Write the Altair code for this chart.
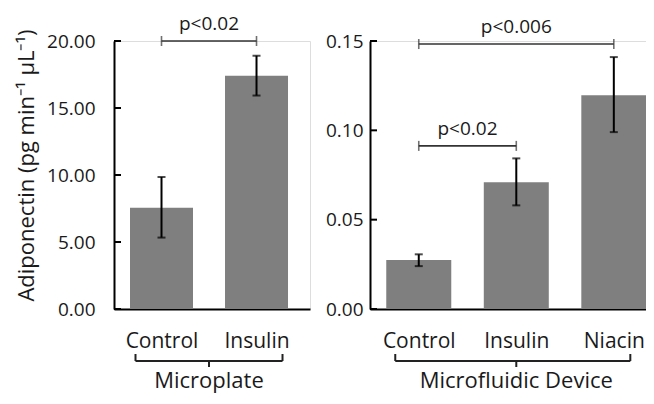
import altair as alt
import pandas as pd

FONT = "Open Sans"
TXT = "#1a1a1a"
BAR = "#7f7f7f"
H = 268

# ---- data: Microplate panel ----
left_cats = ["Control", "Insulin"]
left_vals = [7.55, 17.4]
left_lo = [5.33, 15.93]
left_hi = [9.85, 18.9]
left_ticks = [0, 5, 10, 15, 20]
left_sig_from = [0]
left_sig_to = [1]
left_sig_y = [20.0]
left_sig_lab = ["p<0.02"]

# ---- data: Microfluidic Device panel ----
right_cats = ["Control", "Insulin", "Niacin"]
right_vals = [0.0274, 0.0709, 0.1196]
right_lo = [0.0240, 0.0580, 0.0990]
right_hi = [0.0306, 0.0843, 0.1410]
right_ticks = [0, 0.05, 0.10, 0.15]
right_sig_from = [0, 0]
right_sig_to = [1, 2]
right_sig_y = [0.0913, 0.1483]
right_sig_lab = ["p<0.02", "p<0.006"]

groups = ["Microplate", "Microfluidic Device"]
y_title = "Adiponectin (pg min\u207b\u00b9 \u00b5L\u207b\u00b9)"


def panel(cats, vals, lo, hi, ticks, sfrom, sto, sy, slab, group, width,
          xdom, ydom, bar_size, label_pad, brace_l, brace_r, title):
    n = len(cats)
    df = pd.DataFrame({"i": list(range(n)), "cat": cats, "v": vals, "lo": lo, "hi": hi})
    sig = pd.DataFrame({"a": sfrom, "b": sto, "y": sy, "lab": slab})
    tk = pd.DataFrame({"t": ticks})
    br = pd.DataFrame({"a": [0], "b": [n - 1], "g": [group]})

    xs = alt.Scale(domain=xdom, nice=False, zero=False, padding=0)
    ys = alt.Scale(domain=ydom, nice=False, zero=True, padding=0)
    labexpr = "[" + ",".join("'%s'" % c for c in cats) + "][datum.value]"
    x_axis = alt.Axis(values=list(range(n)), labelExpr=labexpr, ticks=False, grid=False,
                      domainColor="black", domainWidth=2, labelFontSize=21,
                      labelFont=FONT, labelColor=TXT, labelPadding=21, title=None)
    yargs = dict(values=ticks, format=".2f", ticks=False, grid=False,
                 domainColor="black", domainWidth=2, labelFontSize=19,
                 labelFont=FONT, labelColor=TXT, labelPadding=label_pad)
    if title:
        yargs.update(title=title, titleFont=FONT, titleFontSize=22,
                     titleFontWeight="normal", titleColor=TXT, titlePadding=8,
                     titleY=124)
    else:
        yargs.update(title=None)
    y_axis = alt.Axis(**yargs)

    base = alt.Chart(df)
    bars = base.mark_bar(color=BAR, size=bar_size).encode(
        x=alt.X("i:Q", scale=xs, axis=x_axis),
        y=alt.Y("v:Q", scale=ys, axis=y_axis),
    )
    err = base.mark_rule(color="black", strokeWidth=2).encode(
        x="i:Q", y="lo:Q", y2="hi:Q")
    cap_hi = base.mark_tick(color="black", orient="horizontal", size=8, thickness=2).encode(
        x="i:Q", y="hi:Q")
    cap_lo = base.mark_tick(color="black", orient="horizontal", size=8, thickness=2).encode(
        x="i:Q", y="lo:Q")

    sb = alt.Chart(sig)
    sline = sb.mark_rule(color="#333333", strokeWidth=1.6).encode(
        x="a:Q", x2="b:Q", y="y:Q")
    send_a = sb.mark_tick(color="#333333", orient="vertical", size=10, thickness=1.6).encode(
        x="a:Q", y="y:Q")
    send_b = sb.mark_tick(color="#333333", orient="vertical", size=10, thickness=1.6).encode(
        x="b:Q", y="y:Q")
    stext = sb.transform_calculate(m="(datum.a + datum.b) / 2").mark_text(
        font=FONT, fontSize=19, color=TXT, baseline="alphabetic", dy=-11).encode(
        x="m:Q", y="y:Q", text="lab:N")

    ytk = alt.Chart(tk).mark_rule(color="black", strokeWidth=2).encode(
        y="t:Q", x=alt.value(0), x2=alt.value(7))

    bb = alt.Chart(br)
    bline = bb.mark_rule(color="#222222", strokeWidth=2, xOffset=brace_l, x2Offset=brace_r).encode(
        x="a:Q", x2="b:Q", y=alt.value(H + 52))
    bl = bb.mark_rule(color="#222222", strokeWidth=2, xOffset=brace_l).encode(
        x="a:Q", y=alt.value(H + 45), y2=alt.value(H + 52))
    brr = bb.mark_rule(color="#222222", strokeWidth=2, xOffset=brace_r).encode(
        x="b:Q", y=alt.value(H + 45), y2=alt.value(H + 52))
    bc = bb.transform_calculate(m="(datum.a + datum.b) / 2").mark_rule(
        color="#222222", strokeWidth=2).encode(
        x="m:Q", y=alt.value(H + 52), y2=alt.value(H + 58))
    btxt = bb.transform_calculate(m="(datum.a + datum.b) / 2").mark_text(
        font=FONT, fontSize=22, color=TXT, baseline="alphabetic").encode(
        x="m:Q", y=alt.value(H + 79), text="g:N")

    return alt.layer(bars, err, cap_hi, cap_lo, sline, send_a, send_b, stext,
                     ytk, bline, bl, brr, bc, btxt).properties(width=width, height=H)


left = panel(left_cats, left_vals, left_lo, left_hi, left_ticks,
             left_sig_from, left_sig_to, left_sig_y, left_sig_lab, groups[0],
             196, [-0.5, 1.563], [0, 20], 63, 19, -26, 26, y_title)
right = panel(right_cats, right_vals, right_lo, right_hi, right_ticks,
              right_sig_from, right_sig_to, right_sig_y, right_sig_lab, groups[1],
              276, [-0.5, 2.33], [0, 0.15], 65, 7, -23.5, 16.5, None)

chart = alt.hconcat(left, right, spacing=13).properties(
    autosize=alt.AutoSizeParams(type="none"),
    padding={"left": 106, "top": 33, "right": 532, "bottom": 353}
).configure_view(stroke=None).configure(font=FONT)

chart.save("out.html", embed_options={"renderer": "svg", "actions": False})
